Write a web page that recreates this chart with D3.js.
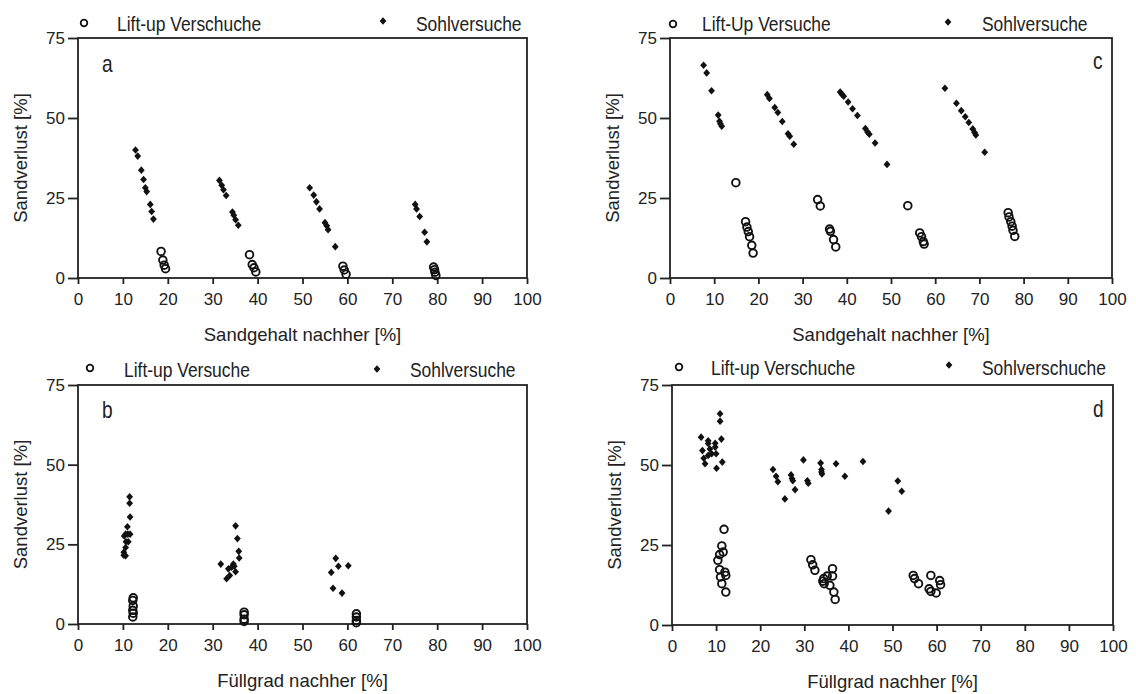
<!DOCTYPE html>
<html>
<head>
<meta charset="utf-8">
<script src="https://cdn.jsdelivr.net/npm/d3@7"></script>
<style>
  html, body { margin: 0; padding: 0; background: #fff; }
  svg { display: block; }
  text { font-family: "Liberation Sans", Arial, sans-serif; fill: #222; }
</style>
</head>
<body>
<svg id="chart" width="1136" height="694"></svg>
<script>
// Tick values shared by all four panels
const xTicks = [0, 10, 20, 30, 40, 50, 60, 70, 80, 90, 100];
const yTicks = [0, 25, 50, 75];

// Panel a: sand loss vs. sand content afterwards
const aLift = [
  [18.5, 8.3], [18.9, 5.6], [19.2, 4.0], [19.5, 2.9],
  [38.2, 7.3], [38.8, 4.2], [39.2, 3.2], [39.6, 1.9],
  [59.0, 3.7], [59.3, 2.5], [59.7, 1.2],
  [79.2, 3.4], [79.4, 2.6], [79.5, 1.8], [79.7, 0.8]
];
const aSohl = [
  [12.8, 40.0], [13.3, 38.1], [14.1, 33.7], [14.6, 30.8], [15.0, 28.2], [15.3, 27.0], [16.1, 23.0], [16.4, 20.8], [16.8, 18.4],
  [31.5, 30.5], [32.0, 29.0], [32.4, 27.6], [33.0, 25.8], [34.4, 20.6], [34.7, 19.6], [35.1, 18.2], [35.7, 16.5],
  [51.6, 28.2], [52.5, 25.9], [53.1, 23.8], [53.8, 21.6], [55.0, 17.3], [55.4, 16.3], [55.7, 15.1], [57.3, 9.8],
  [75.1, 23.0], [75.4, 21.6], [76.1, 19.2], [77.2, 14.3], [77.7, 11.3]
];
const legendA = ["Lift-up Verschuche", "Sohlversuche"];

// Panel c: sand loss vs. sand content afterwards
const cLift = [
  [14.9, 29.8], [17.1, 17.6], [17.4, 15.9], [17.7, 14.5], [18.0, 12.9], [18.5, 10.2], [18.8, 7.8],
  [33.4, 24.5], [34.0, 22.5], [36.1, 15.3], [36.3, 14.6], [37.0, 12.0], [37.5, 9.7],
  [53.8, 22.6], [56.5, 14.1], [56.9, 12.9], [57.3, 11.4], [57.5, 10.6],
  [76.5, 20.4], [76.7, 19.1], [77.1, 17.6], [77.4, 16.2], [77.6, 14.9], [78.0, 13.0]
];
const cSohl = [
  [7.6, 66.5], [8.3, 64.1], [9.4, 58.5], [10.9, 50.9], [11.2, 49.0], [11.4, 48.2], [11.7, 47.4],
  [22.0, 57.3], [22.5, 56.1], [23.7, 53.3], [24.4, 51.7], [25.4, 48.9], [26.7, 45.1], [27.1, 44.3], [28.0, 41.8],
  [38.5, 58.1], [38.9, 57.4], [39.3, 56.8], [40.3, 55.0], [41.3, 52.9], [42.4, 50.8], [44.2, 46.7], [44.7, 45.6], [45.1, 44.9], [46.4, 42.2], [49.1, 35.5],
  [62.2, 59.3], [64.8, 54.6], [65.9, 52.3], [66.8, 50.4], [67.6, 48.6], [68.5, 46.6], [68.9, 45.5], [69.2, 44.7], [71.2, 39.3]
];
const legendC = ["Lift-Up Versuche", "Sohlversuche"];

// Panel b: sand loss vs. filling degree afterwards
const bLift = [
  [12.3, 8.2], [12.2, 7.4], [12.3, 5.6], [12.2, 4.3], [12.3, 3.4], [12.2, 2.2],
  [37.0, 3.7], [37.0, 2.9], [37.0, 1.5], [37.0, 0.8],
  [62.0, 3.2], [62.0, 2.2], [62.0, 1.1], [62.0, 0.4]
];
const bSohl = [
  [11.5, 39.9], [11.5, 37.9], [11.6, 33.6], [11.0, 30.5], [10.6, 28.2], [11.1, 28.2], [11.6, 28.2], [10.3, 27.6],
  [10.7, 25.8], [11.2, 25.8], [10.6, 24.0], [10.2, 22.5], [10.6, 21.4], [10.2, 21.6],
  [31.8, 18.8], [33.1, 14.2], [33.8, 15.2], [33.5, 17.3], [34.2, 17.8], [34.6, 18.8], [34.8, 18.1], [35.1, 16.4],
  [35.1, 30.8], [35.5, 26.8], [35.8, 22.8], [35.9, 20.7],
  [56.4, 16.2], [57.4, 20.6], [58.0, 18.1], [56.8, 11.2], [58.8, 9.7], [60.2, 18.3]
];
const legendB = ["Lift-up Versuche", "Sohlversuche"];

// Panel d: sand loss vs. filling degree afterwards
const dLift = [
  [11.8, 29.9], [11.3, 24.7], [11.6, 22.8], [10.8, 22.0], [10.4, 20.2], [10.8, 17.3], [12.0, 16.5], [12.2, 15.5],
  [11.0, 15.0], [11.3, 12.9], [12.2, 10.3],
  [31.5, 20.4], [31.9, 18.8], [32.4, 17.1], [34.4, 14.5], [34.5, 12.9], [35.2, 15.3], [35.8, 12.4], [36.4, 17.6],
  [36.4, 15.3], [36.7, 10.3], [37.0, 8.0], [34.2, 13.7],
  [54.7, 15.5], [55.0, 14.5], [55.9, 12.9], [58.3, 11.3], [58.7, 15.5], [58.7, 10.5], [59.9, 10.0], [60.7, 13.9], [60.9, 12.6]
];
const dSohl = [
  [10.9, 66.0], [10.9, 63.7], [6.6, 58.7], [11.2, 58.1], [8.2, 57.6], [8.2, 56.7], [9.8, 56.8], [9.8, 55.6],
  [6.9, 54.5], [8.6, 55.0], [9.0, 53.5], [8.2, 53.0], [10.0, 53.5], [7.2, 52.1], [11.4, 50.9], [7.5, 50.4], [10.1, 49.0],
  [22.9, 48.6], [23.6, 46.5], [24.0, 44.8], [25.6, 39.4], [27.0, 46.9], [27.2, 45.8], [27.4, 45.1], [27.9, 42.3],
  [29.8, 51.6], [30.7, 45.1], [30.9, 44.3], [33.7, 50.6], [33.9, 48.6], [33.9, 47.8], [34.0, 47.2], [37.2, 50.4],
  [39.2, 46.5], [43.3, 51.1],
  [49.1, 35.6], [51.2, 45.0], [52.1, 41.8]
];
const legendD = ["Lift-up Verschuche", "Sohlverschuche"];

const yTitle = "Sandverlust [%]";
const xTitleTop = "Sandgehalt nachher [%]";
const xTitleBottom = "Füllgrad nachher [%]";

// Panel layout on the page
const panels = [
  { tag: "a", box: { l: 78,  r: 527,  t: 38,  b: 278 }, lift: aLift, sohl: aSohl, legend: legendA, xTitle: xTitleTop,
    leg: { cx: 84, dx: 383, tx1: 117, tx2: 416, cy: 23, dy: 21, base: 31 }, tagPos: { x: 102, y: 72 } },
  { tag: "c", box: { l: 670, r: 1112, t: 38,  b: 278 }, lift: cLift, sohl: cSohl, legend: legendC, xTitle: xTitleTop,
    leg: { cx: 673, dx: 948, tx1: 702, tx2: 982, cy: 24, dy: 22, base: 31 }, tagPos: { x: 1093, y: 69 } },
  { tag: "b", box: { l: 78,  r: 527,  t: 385, b: 624 }, lift: bLift, sohl: bSohl, legend: legendB, xTitle: xTitleBottom,
    leg: { cx: 90, dx: 377, tx1: 124, tx2: 410, cy: 368, dy: 369, base: 377 }, tagPos: { x: 102, y: 418 } },
  { tag: "d", box: { l: 672, r: 1113, t: 385, b: 625 }, lift: dLift, sohl: dSohl, legend: legendD, xTitle: xTitleBottom,
    leg: { cx: 679, dx: 949, tx1: 711, tx2: 982, cy: 367, dy: 365, base: 375 }, tagPos: { x: 1093, y: 417 } }
];

const ink = "#222";
const svg = d3.select("#chart");
svg.append("rect").attr("width", 1136).attr("height", 694).attr("fill", "#fff");

// small filled diamond marker centred on the origin
const diamond = "M0,-3.8L3.4,0L0,3.8L-3.4,0Z";

// narrow legend / panel-tag lettering
function narrowText(g, x, y, str, size) {
  g.append("text")
    .attr("transform", `translate(${x},${y}) scale(0.83,1)`)
    .attr("font-size", size)
    .text(str);
}

panels.forEach(p => {
  const { l, r, t, b } = p.box;
  const x = d3.scaleLinear().domain([0, 100]).range([l, r]);
  const y = d3.scaleLinear().domain([0, 75]).range([b, t]);
  const g = svg.append("g");

  // axes
  const xa = g.append("g").attr("transform", `translate(0,${b})`)
    .call(d3.axisBottom(x).tickValues(xTicks).tickSize(6).tickSizeOuter(0).tickPadding(9));
  const ya = g.append("g").attr("transform", `translate(${l},0)`)
    .call(d3.axisLeft(y).tickValues(yTicks).tickSize(10).tickSizeOuter(0).tickPadding(3));
  [xa, ya].forEach(a => {
    a.selectAll("path.domain").remove();
    a.selectAll("line").attr("stroke", ink).attr("stroke-width", 1.8);
    a.selectAll("text").attr("font-size", 17).attr("fill", ink)
      .attr("font-family", "'Liberation Sans', Arial, sans-serif");
  });

  // frame
  g.append("rect").attr("x", l).attr("y", t).attr("width", r - l).attr("height", b - t)
    .attr("fill", "none").attr("stroke", ink).attr("stroke-width", 1.8);

  // axis titles
  g.append("text").attr("x", (l + r) / 2).attr("y", b + 63)
    .attr("text-anchor", "middle").attr("font-size", 18.5).text(p.xTitle);
  g.append("text").attr("transform", `translate(${l - 51},${(t + b) / 2}) rotate(-90)`)
    .attr("text-anchor", "middle").attr("font-size", 18.5).text(yTitle);

  // lift-up series: open circles
  g.append("g").selectAll("circle").data(p.lift).join("circle")
    .attr("cx", d => x(d[0])).attr("cy", d => y(d[1])).attr("r", 3.8)
    .attr("fill", "none").attr("stroke", "#111").attr("stroke-width", 1.9);

  // sole series: filled diamonds
  g.append("g").selectAll("path").data(p.sohl).join("path")
    .attr("transform", d => `translate(${x(d[0])},${y(d[1])})`)
    .attr("d", diamond).attr("fill", "#111");

  // legend
  const L = p.leg;
  g.append("circle").attr("cx", L.cx).attr("cy", L.cy).attr("r", 3.3)
    .attr("fill", "none").attr("stroke", "#111").attr("stroke-width", 1.8);
  g.append("path").attr("transform", `translate(${L.dx},${L.dy})`).attr("d", diamond).attr("fill", "#111");
  narrowText(g, L.tx1, L.base, p.legend[0], 21);
  narrowText(g, L.tx2, L.base, p.legend[1], 21);

  // panel tag
  narrowText(g, p.tagPos.x, p.tagPos.y, p.tag, 23);
});
</script>
</body>
</html>
